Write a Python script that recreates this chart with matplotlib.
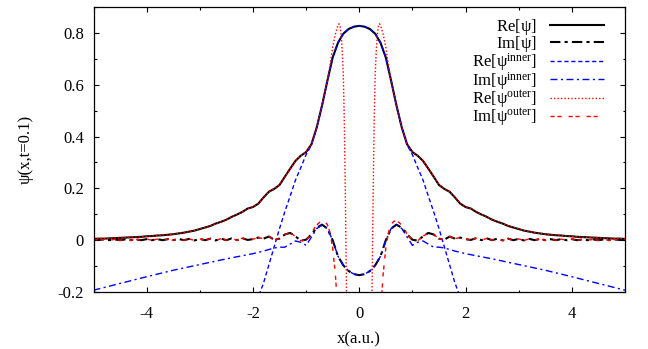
import matplotlib
matplotlib.use("Agg")
import matplotlib.pyplot as plt

plt.rcParams['font.family'] = ['Liberation Serif', 'DejaVu Serif']
plt.rcParams['mathtext.fontset'] = 'custom'
plt.rcParams['mathtext.rm'] = 'Liberation Serif'
plt.rcParams['mathtext.it'] = 'Liberation Serif:italic'

# ---------------- data ----------------
x_full = [-5.0, -4.9, -4.8, -4.7, -4.6, -4.5, -4.4, -4.3, -4.2, -4.1,
          -4.0, -3.9, -3.8, -3.7, -3.6, -3.5, -3.4, -3.3, -3.2, -3.1,
          -3.0, -2.9, -2.8, -2.7, -2.6, -2.5, -2.4, -2.3, -2.2, -2.1,
          -2.0, -1.9, -1.8, -1.7, -1.6, -1.5, -1.4, -1.3, -1.2, -1.1,
          -1.0, -0.9, -0.8, -0.7, -0.6, -0.5, -0.4, -0.3, -0.2, -0.1,
          0.0,
          0.1, 0.2, 0.3, 0.4, 0.5, 0.6, 0.7, 0.8, 0.9, 1.0,
          1.1, 1.2, 1.3, 1.4, 1.5, 1.6, 1.7, 1.8, 1.9, 2.0,
          2.1, 2.2, 2.3, 2.4, 2.5, 2.6, 2.7, 2.8, 2.9, 3.0,
          3.1, 3.2, 3.3, 3.4, 3.5, 3.6, 3.7, 3.8, 3.9, 4.0,
          4.1, 4.2, 4.3, 4.4, 4.5, 4.6, 4.7, 4.8, 4.9, 5.0]

re_psi = [0.005, 0.006, 0.006, 0.007, 0.008, 0.009, 0.010, 0.011, 0.012, 0.013,
          0.015, 0.016, 0.018, 0.019, 0.021, 0.023, 0.026, 0.029, 0.033, 0.037,
          0.043, 0.049, 0.055, 0.064, 0.071, 0.079, 0.090, 0.099, 0.109, 0.122,
          0.128, 0.141, 0.165, 0.187, 0.198, 0.213, 0.245, 0.276, 0.306, 0.326,
          0.340, 0.370, 0.435, 0.520, 0.615, 0.705, 0.762, 0.797, 0.815, 0.824,
          0.827,
          0.824, 0.815, 0.797, 0.762, 0.705, 0.615, 0.520, 0.435, 0.370, 0.340,
          0.326, 0.306, 0.276, 0.245, 0.213, 0.198, 0.187, 0.165, 0.141, 0.128,
          0.122, 0.109, 0.099, 0.090, 0.079, 0.071, 0.064, 0.055, 0.049, 0.043,
          0.037, 0.033, 0.029, 0.026, 0.023, 0.021, 0.019, 0.018, 0.016, 0.015,
          0.013, 0.012, 0.011, 0.010, 0.009, 0.008, 0.007, 0.006, 0.006, 0.005]

im_psi = [0.003, 0.001, 0.003, 0.000, 0.003, 0.000, 0.003, 0.000, 0.003, 0.000,
          0.004, 0.000, 0.004, 0.000, 0.004, 0.000, 0.005, 0.000, 0.005, -0.001,
          0.005, 0.000, 0.006, -0.001, 0.006, 0.000, 0.007, 0.000, 0.008, 0.001,
          0.004, 0.010, 0.006, 0.014, 0.002, 0.006, 0.022, 0.028, 0.015, -0.002,
          0.002, 0.022, 0.048, 0.060, 0.045, 0.000, -0.062, -0.097, -0.119, -0.131,
          -0.135,
          -0.131, -0.119, -0.097, -0.062, 0.000, 0.045, 0.060, 0.048, 0.022, 0.002,
          -0.002, 0.015, 0.028, 0.022, 0.006, 0.002, 0.014, 0.006, 0.010, 0.004,
          0.001, 0.008, 0.000, 0.007, 0.000, 0.006, -0.001, 0.006, 0.000, 0.005,
          -0.001, 0.005, 0.000, 0.005, 0.000, 0.004, 0.000, 0.004, 0.000, 0.004,
          0.000, 0.003, 0.000, 0.003, 0.000, 0.003, 0.000, 0.003, 0.001, 0.003]

x_re_in = [-2.0, -1.9, -1.8, -1.7, -1.6, -1.5, -1.4, -1.3, -1.2, -1.1,
           -1.0, -0.9, -0.8, -0.7, -0.6, -0.5, -0.4, -0.3, -0.2, -0.1,
           0.0,
           0.1, 0.2, 0.3, 0.4, 0.5, 0.6, 0.7, 0.8, 0.9, 1.0,
           1.1, 1.2, 1.3, 1.4, 1.5, 1.6, 1.7, 1.8, 1.9, 2.0]
re_inner = [-0.260, -0.220, -0.165, -0.095, -0.025, 0.045, 0.110, 0.170, 0.232, 0.280,
            0.330, 0.368, 0.435, 0.520, 0.615, 0.705, 0.762, 0.797, 0.815, 0.824,
            0.827,
            0.824, 0.815, 0.797, 0.762, 0.705, 0.615, 0.520, 0.435, 0.368, 0.330,
            0.280, 0.232, 0.170, 0.110, 0.045, -0.025, -0.095, -0.165, -0.220, -0.260]

x_im_in = [-5.0, -4.5, -4.0, -3.5, -3.0, -2.5, -2.0, -1.9, -1.8, -1.7,
           -1.6, -1.5, -1.4, -1.3, -1.2, -1.1, -1.0, -0.9, -0.8, -0.7,
           -0.6, -0.5, -0.4, -0.3, -0.2, -0.1, 0.0,
           0.1, 0.2, 0.3, 0.4, 0.5, 0.6, 0.7, 0.8, 0.9, 1.0,
           1.1, 1.2, 1.3, 1.4, 1.5, 1.6, 1.7, 1.8, 1.9, 2.0,
           2.5, 3.0, 3.5, 4.0, 4.5, 5.0]
im_inner = [-0.193, -0.167, -0.141, -0.116, -0.094, -0.072, -0.052, -0.047, -0.042, -0.036,
            -0.030, -0.027, -0.027, -0.015, -0.003, -0.008, -0.020, 0.012, 0.045, 0.058,
            0.045, 0.000, -0.062, -0.097, -0.119, -0.131, -0.135,
            -0.131, -0.119, -0.097, -0.062, 0.000, 0.045, 0.058, 0.045, 0.012, -0.020,
            -0.008, -0.003, -0.015, -0.027, -0.027, -0.030, -0.036, -0.042, -0.047, -0.052,
            -0.072, -0.094, -0.116, -0.141, -0.167, -0.193]

x_re_out = [-5.0, -4.9, -4.8, -4.7, -4.6, -4.5, -4.4, -4.3, -4.2, -4.1,
            -4.0, -3.9, -3.8, -3.7, -3.6, -3.5, -3.4, -3.3, -3.2, -3.1,
            -3.0, -2.9, -2.8, -2.7, -2.6, -2.5, -2.4, -2.3, -2.2, -2.1,
            -2.0, -1.9, -1.8, -1.7, -1.6, -1.5, -1.4, -1.3, -1.2, -1.1,
            -1.0, -0.9, -0.8, -0.7, -0.6, -0.55, -0.5, -0.45, -0.4, -0.38,
            -0.36, -0.34, -0.32, -0.3, -0.28, -0.26, -0.24, -0.22,
            0.22, 0.24, 0.26, 0.28, 0.3, 0.32, 0.34, 0.36,
            0.38, 0.4, 0.45, 0.5, 0.55, 0.6, 0.7, 0.8, 0.9, 1.0,
            1.1, 1.2, 1.3, 1.4, 1.5, 1.6, 1.7, 1.8, 1.9, 2.0,
            2.1, 2.2, 2.3, 2.4, 2.5, 2.6, 2.7, 2.8, 2.9, 3.0,
            3.1, 3.2, 3.3, 3.4, 3.5, 3.6, 3.7, 3.8, 3.9, 4.0,
            4.1, 4.2, 4.3, 4.4, 4.5, 4.6, 4.7, 4.8, 4.9, 5.0]
re_outer = [0.005, 0.006, 0.006, 0.007, 0.008, 0.009, 0.010, 0.011, 0.012, 0.013,
            0.015, 0.016, 0.018, 0.019, 0.021, 0.023, 0.026, 0.029, 0.033, 0.037,
            0.043, 0.049, 0.055, 0.064, 0.071, 0.079, 0.090, 0.099, 0.109, 0.122,
            0.128, 0.141, 0.165, 0.187, 0.198, 0.213, 0.245, 0.276, 0.306, 0.326,
            0.340, 0.370, 0.435, 0.520, 0.615, 0.675, 0.745, 0.795, 0.830, 0.835,
            0.825, 0.790, 0.730, 0.640, 0.450, 0.150, -0.200, -0.500,
            -0.500, -0.200, 0.150, 0.450, 0.640, 0.730, 0.790, 0.825,
            0.835, 0.830, 0.795, 0.745, 0.675, 0.615, 0.520, 0.435, 0.370, 0.340,
            0.326, 0.306, 0.276, 0.245, 0.213, 0.198, 0.187, 0.165, 0.141, 0.128,
            0.122, 0.109, 0.099, 0.090, 0.079, 0.071, 0.064, 0.055, 0.049, 0.043,
            0.037, 0.033, 0.029, 0.026, 0.023, 0.021, 0.019, 0.018, 0.016, 0.015,
            0.013, 0.012, 0.011, 0.010, 0.009, 0.008, 0.007, 0.006, 0.006, 0.005]

x_im_out = [-5.0, -4.9, -4.8, -4.7, -4.6, -4.5, -4.4, -4.3, -4.2, -4.1,
            -4.0, -3.9, -3.8, -3.7, -3.6, -3.5, -3.4, -3.3, -3.2, -3.1,
            -3.0, -2.9, -2.8, -2.7, -2.6, -2.5, -2.4, -2.3, -2.2, -2.1,
            -2.0, -1.9, -1.8, -1.7, -1.6, -1.5, -1.4, -1.3, -1.2, -1.1,
            -1.0, -0.9, -0.85, -0.8, -0.75, -0.7, -0.65, -0.6, -0.55, -0.5,
            -0.45, -0.42, -0.4,
            0.4, 0.42, 0.45,
            0.5, 0.55, 0.6, 0.65, 0.7, 0.75, 0.8, 0.85, 0.9, 1.0,
            1.1, 1.2, 1.3, 1.4, 1.5, 1.6, 1.7, 1.8, 1.9, 2.0,
            2.1, 2.2, 2.3, 2.4, 2.5, 2.6, 2.7, 2.8, 2.9, 3.0,
            3.1, 3.2, 3.3, 3.4, 3.5, 3.6, 3.7, 3.8, 3.9, 4.0,
            4.1, 4.2, 4.3, 4.4, 4.5, 4.6, 4.7, 4.8, 4.9, 5.0]
im_outer = [0.003, 0.001, 0.003, 0.000, 0.003, 0.000, 0.003, 0.000, 0.003, 0.000,
            0.004, 0.000, 0.004, 0.000, 0.004, 0.000, 0.005, 0.000, 0.005, -0.001,
            0.005, 0.000, 0.006, -0.001, 0.006, 0.000, 0.007, 0.000, 0.008, 0.001,
            0.004, 0.010, 0.006, 0.014, 0.002, 0.006, 0.022, 0.028, 0.015, -0.002,
            0.002, 0.022, 0.045, 0.058, 0.068, 0.074, 0.073, 0.060, 0.030, -0.030,
            -0.130, -0.220, -0.300,
            -0.300, -0.220, -0.130,
            -0.030, 0.030, 0.060, 0.073, 0.074, 0.068, 0.058, 0.045, 0.022, 0.002,
            -0.002, 0.015, 0.028, 0.022, 0.006, 0.002, 0.014, 0.006, 0.010, 0.004,
            0.001, 0.008, 0.000, 0.007, 0.000, 0.006, -0.001, 0.006, 0.000, 0.005,
            -0.001, 0.005, 0.000, 0.005, 0.000, 0.004, 0.000, 0.004, 0.000, 0.004,
            0.000, 0.003, 0.000, 0.003, 0.000, 0.003, 0.000, 0.003, 0.001, 0.003]

labels = [r'Re[$\mathrm{\psi}$]', r'Im[$\mathrm{\psi}$]',
          r'Re[$\mathrm{\psi}^{\mathrm{inner}}$]', r'Im[$\mathrm{\psi}^{\mathrm{inner}}$]',
          r'Re[$\mathrm{\psi}^{\mathrm{outer}}$]', r'Im[$\mathrm{\psi}^{\mathrm{outer}}$]']
x_ticks = [-4, -2, 0, 2, 4]
y_ticks = [-0.2, 0, 0.2, 0.4, 0.6, 0.8]

# ---------------- figure ----------------
fig = plt.figure(figsize=(6.48, 3.49), dpi=100)
ax = fig.add_axes([0.1443, 0.1633, 0.8202, 0.8167])

ax.plot(x_full, re_psi, color='black', lw=1.5, ls='-', label=labels[0])
ax.plot(x_full, im_psi, color='black', lw=1.5, ls=(0, (5, 2, 1.5, 2)), label=labels[1])
ax.plot(x_re_in, re_inner, color='#0000ff', lw=1.0, ls=(0, (3, 2)), label=labels[2])
ax.plot(x_im_in, im_inner, color='#0000ff', lw=1.0, ls=(0, (5, 2.5, 1.5, 2.5)), label=labels[3])
ax.plot(x_re_out, re_outer, color='#ff0000', lw=1.0, ls=(0, (1, 1.5)), label=labels[4])
ax.plot(x_im_out, im_outer, color='#ff0000', lw=1.0, ls=(0, (3, 2, 3, 5)), label=labels[5])

ax.set_xlim(-5, 5)
ax.set_ylim(-0.2, 0.9)
ax.set_xticks(x_ticks)
ax.set_xticklabels([str(v) for v in x_ticks])
ax.set_yticks(y_ticks)
ax.set_yticklabels(['-0.2', '0', '0.2', '0.4', '0.6', '0.8'])
ax.set_xticks([-5, -3, -1, 1, 3, 5], minor=True)
ax.set_yticks([-0.1, 0.1, 0.3, 0.5, 0.7, 0.9], minor=True)
ax.tick_params(which='both', direction='in', top=True, right=True, labelsize=12, width=0.8)
ax.tick_params(which='major', length=3.5)
ax.tick_params(axis='x', which='major', pad=10)
ax.tick_params(axis='y', which='major', pad=7)
ax.tick_params(which='minor', length=1.8)
for s in ax.spines.values():
    s.set_linewidth(0.9)

ax.set_xlabel('x(a.u.)', fontsize=12, labelpad=7)
ax.set_ylabel('\u03c8(x,t=0.1)', fontsize=12, labelpad=17)

leg = ax.legend(loc='upper right', bbox_to_anchor=(0.979, 1.0), frameon=False,
                markerfirst=False, fontsize=12, handlelength=3.2, handletextpad=0.8,
                labelspacing=-0.19, borderpad=0.62, borderaxespad=0.0)
for col in leg._legend_handle_box.get_children():
    col.align = 'right'

fig.savefig('out.png', dpi=100)
